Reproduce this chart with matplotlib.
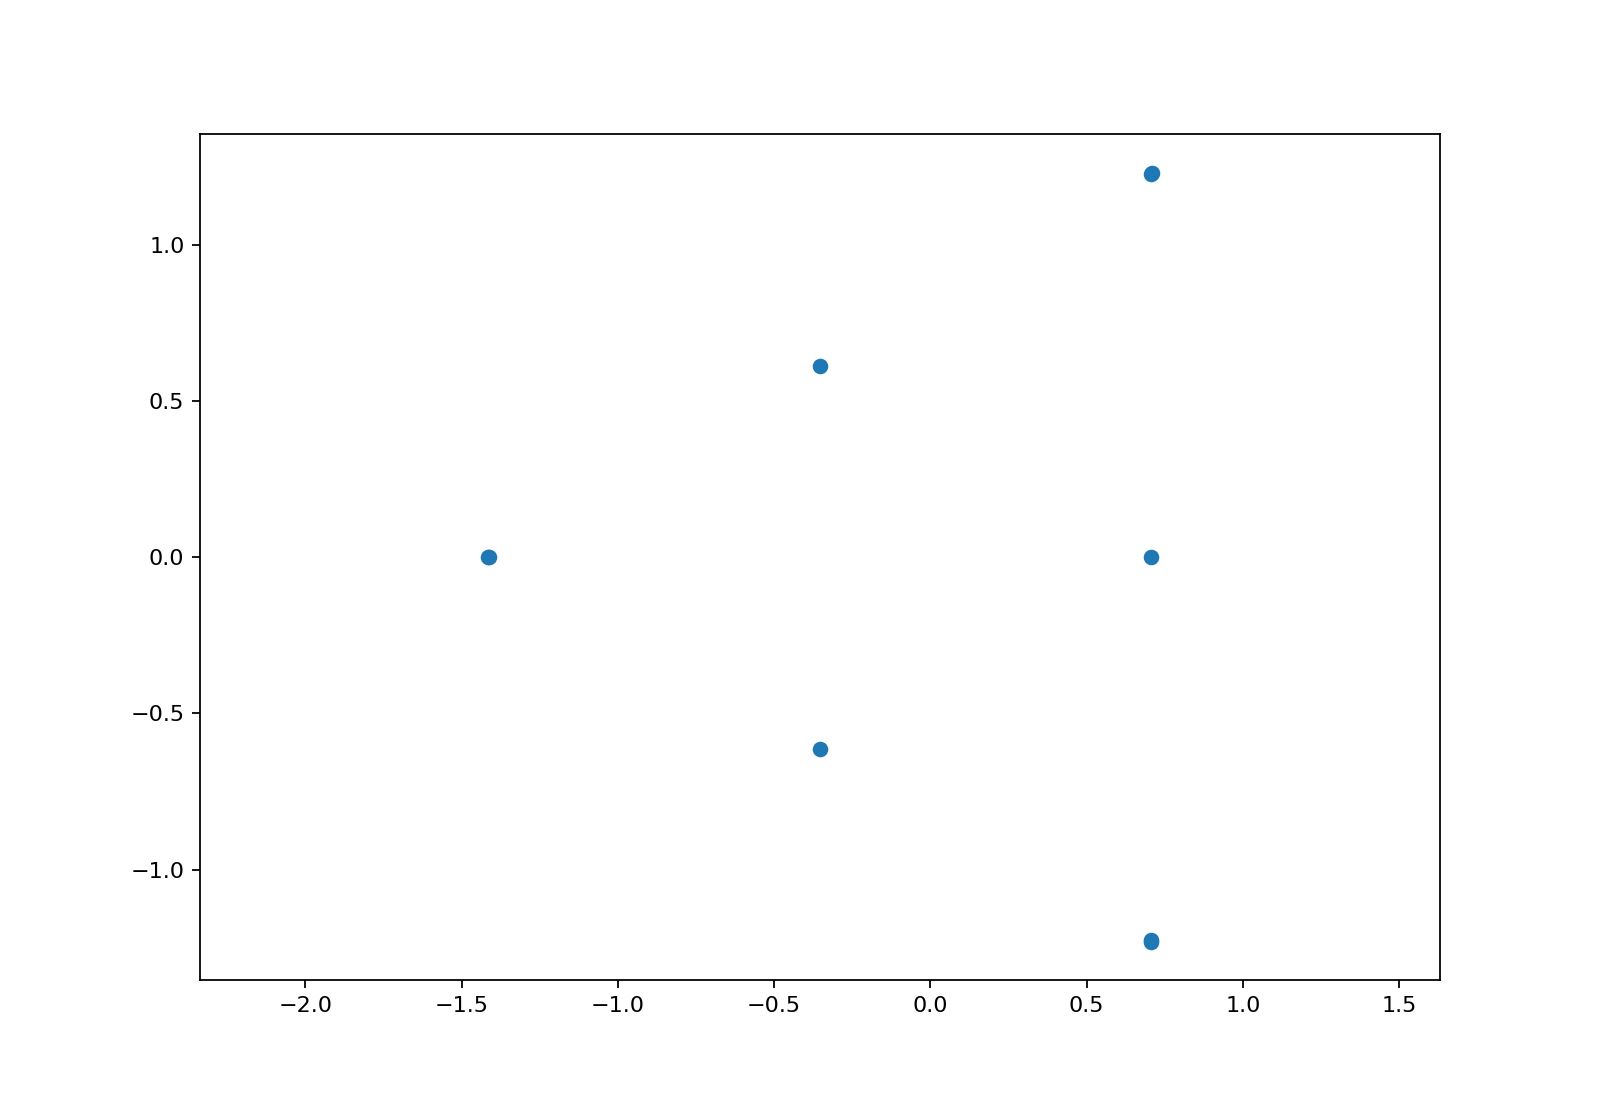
import matplotlib
matplotlib.use("Agg")
import matplotlib.pyplot as plt
import numpy as np

x_vals = [-1.4142, -1.4130, -0.3536, -0.3540, 0.7071, 0.7085, 0.7071, 0.7060, 0.7071]
y_vals = [0.0, 0.002, 0.6124, -0.6124, 1.2247, 1.2300, 0.0, -1.2300, -1.2247]

fig, ax = plt.subplots(figsize=(10, 7), dpi=160)
fig.subplots_adjust(left=0.125, right=0.9, bottom=0.125, top=0.88)
ax.scatter(x_vals, y_vals)
ax.axis('equal')
fig.savefig("out.png")
